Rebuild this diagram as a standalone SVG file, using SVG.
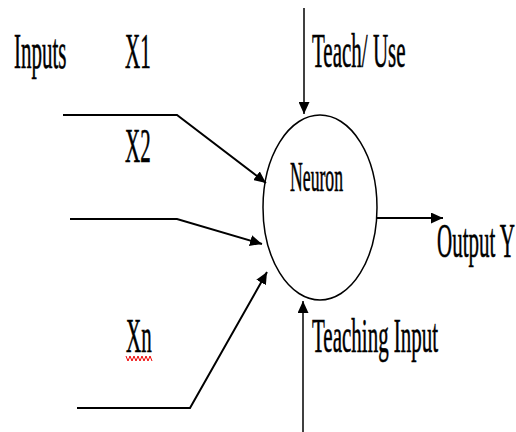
<svg xmlns="http://www.w3.org/2000/svg" width="516" height="432" viewBox="0 0 516 432">
<style>
.t{font-family:"Liberation Serif","Times New Roman",serif;font-size:21px;fill:#000;stroke:#000;stroke-width:0.25}
.ln{fill:none;stroke:#000;stroke-width:2}
.thin{fill:none;stroke:#000;stroke-width:1.5}
</style>
<defs>
<marker id="ah" markerUnits="userSpaceOnUse" markerWidth="13" markerHeight="11" refX="12" refY="5.5" orient="auto">
<path d="M0,0 L12,5.5 L0,11 z" fill="#000"/>
</marker>
</defs>
<rect width="516" height="432" fill="#fff"/>
<g id="neuron">
<ellipse cx="320" cy="207.5" rx="57" ry="92.5" fill="none" stroke="#000" stroke-width="1.5"/>
<text class="t" style="font-size:17.7px" transform="translate(290,191) scale(1,2.35)">Neuron</text>
</g>
<g id="labels">
<text class="t" transform="translate(14,68) scale(1,2.4)">Inputs</text>
<text class="t" transform="translate(125,68) scale(1,2.4)">X1</text>
<text class="t" transform="translate(125,162) scale(1,2.35)">X2</text>
<text class="t" transform="translate(126,352) scale(1,2.35)">Xn</text>
<polyline points="126,356 128,361 130,356 132,361 134,356 136,361 138,356 140,361 142,356 144,361 146,356 148,361 150,356 152,361" fill="none" stroke="#e00" stroke-width="1"/>
<text class="t" transform="translate(312,67) scale(1,2.35)">Teach/ Use</text>
<text class="t" transform="translate(437,257) scale(1,2.35)">Output Y</text>
<text class="t" transform="translate(312,352) scale(1,2.35)">Teaching Input</text>
</g>
<g id="connectors">
<polyline class="ln" points="63,115 177,115 266,183" marker-end="url(#ah)"/>
<polyline class="ln" points="70,219 177,219 262,244" marker-end="url(#ah)"/>
<polyline class="ln" points="77,408 190,408 267,272" marker-end="url(#ah)"/>
<line class="ln" x1="377" y1="218" x2="443" y2="218" marker-end="url(#ah)"/>
<line class="thin" x1="304" y1="8" x2="304" y2="114" marker-end="url(#ah)"/>
<line class="thin" x1="303" y1="432" x2="303" y2="301" marker-end="url(#ah)"/>
</g>
</svg>
